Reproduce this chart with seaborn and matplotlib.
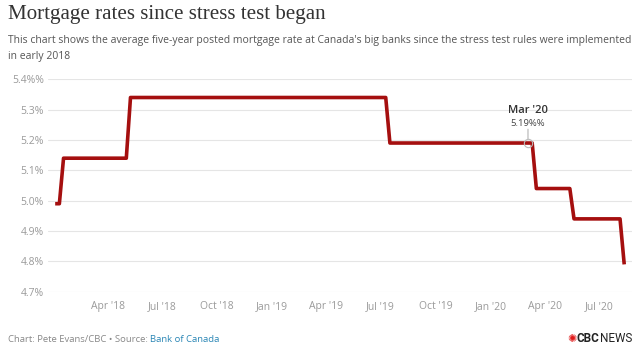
import pandas as pd
import seaborn as sns
import matplotlib.pyplot as plt

# weekly posted 5-year rate, only the weeks where the level changes
dates = ['2018-01-03', '2018-01-10', '2018-01-17', '2018-05-02', '2018-05-09',
         '2019-07-10', '2019-07-17', '2020-03-11', '2020-03-18', '2020-05-13',
         '2020-05-20', '2020-08-05', '2020-08-12']
rates = [4.99, 4.99, 5.14, 5.14, 5.34, 5.34, 5.19, 5.19, 5.04, 5.04, 4.94, 4.94, 4.79]

y_ticks = [4.7, 4.8, 4.9, 5.0, 5.1, 5.2, 5.3, 5.4]
y_tick_labels = ['4.7%', '4.8%', '4.9%', '5.0%', '5.1%', '5.2%', '5.3%', '5.4%%']
x_ticks = ['2018-04-01', '2018-07-01', '2018-10-01', '2019-01-01', '2019-04-01',
           '2019-07-01', '2019-10-01', '2020-01-01', '2020-04-01', '2020-07-01']
x_tick_labels = ["Apr '18", "Jul '18", "Oct '18", "Jan '19", "Apr '19",
                 "Jul '19", "Oct '19", "Jan '20", "Apr '20", "Jul '20"]

note_date = '2020-03-04'
note_value = 5.19
note_title = "Mar '20"
note_text = "5.19%%"

df = pd.DataFrame({'date': pd.to_datetime(dates), 'rate': rates})

sns.set_theme(style="whitegrid")
plt.rcParams['font.family'] = ['Open Sans', 'DejaVu Sans']

fig = plt.figure(figsize=(6.4, 3.52), dpi=100)
ax = fig.add_axes([48 / 640, 1 - 291.7 / 352, (632 - 48) / 640, (291.7 - 79.3) / 352])

sns.lineplot(data=df, x='date', y='rate', ax=ax, color='#a50f0f', linewidth=2.6,
             solid_joinstyle='round', solid_capstyle='butt')

ax.set_xlim(pd.Timestamp('2017-12-22'), pd.Timestamp('2020-08-25'))
ax.set_ylim(4.7, 5.4)
ax.set_yticks(y_ticks)
ax.set_yticklabels(y_tick_labels)
ax.set_xticks(pd.to_datetime(x_ticks))
ax.set_xticklabels(x_tick_labels)
ax.set_xlabel('')
ax.set_ylabel('')
ax.grid(axis='x', visible=False)
ax.grid(axis='y', color='#e5e5e5', linewidth=0.8)
for s in ax.spines.values():
    s.set_visible(False)
ax.tick_params(axis='y', length=0, pad=3, labelsize=7.5, labelcolor='#9a9a9a')
ax.tick_params(axis='x', length=0, pad=7, labelsize=7.5, labelcolor='#9a9a9a')
ax.set_facecolor('white')

# highlighted point
nd = pd.Timestamp(note_date)
ax.plot([nd], [note_value], marker='o', markersize=6, markerfacecolor='none',
        markeredgecolor='#bbbbbb', markeredgewidth=0.8, zorder=5)
ax.annotate('', xy=(nd, note_value), xytext=(0, 10), textcoords='offset points',
            arrowprops=dict(arrowstyle='-', color='#aaaaaa', lw=0.7, shrinkA=0, shrinkB=3))
ax.annotate(note_text, xy=(nd, note_value), xytext=(0, 11), textcoords='offset points',
            ha='center', va='bottom', fontsize=6.8, color='#444444')
ax.annotate(note_title, xy=(nd, note_value), xytext=(0, 19.5), textcoords='offset points',
            ha='center', va='bottom', fontsize=8, color='#333333', fontweight='semibold')

# header
fig.text(8 / 640, 1 - 15 / 352, 'Mortgage rates since stress test began',
         family='Liberation Serif', fontsize=15.1, color='#333333', va='center')
fig.text(8 / 640, 1 - 41 / 352,
         "This chart shows the average five-year posted mortgage rate at Canada's big banks "
         "since the stress test rules were implemented",
         fontsize=7.5, color='#555555', va='center')
fig.text(8 / 640, 1 - 56 / 352, 'in early 2018', fontsize=7.5, color='#555555', va='center')

# footer
fig.canvas.draw()
r = fig.canvas.get_renderer()
t1 = fig.text(8 / 640, 1 - 339 / 352, 'Chart: Pete Evans/CBC \u2022 Source: ',
              fontsize=6.8, color='#888888', va='center')
x1 = t1.get_window_extent(r).x1 / 640
fig.text(x1, 1 - 339 / 352, 'Bank of Canada', fontsize=6.8, color='#2a86b5', va='center')

t_news = fig.text(632 / 640, 1 - 339 / 352, 'NEWS', family='Roboto', fontsize=8.5,
                  color='#222222', va='center', ha='right')
xn = t_news.get_window_extent(r).x0 / 640
t_cbc = fig.text(xn, 1 - 339 / 352, 'CBC', family='Roboto', fontsize=8.5,
                 fontweight='bold', color='#222222', va='center', ha='right')
xc = t_cbc.get_window_extent(r).x0 / 640
fig.text(xc, 1 - 339 / 352, '\u273a', family='DejaVu Sans', fontsize=8,
         color='#e01a1a', va='center', ha='right')

fig.savefig('out.png', dpi=100, facecolor='white')
